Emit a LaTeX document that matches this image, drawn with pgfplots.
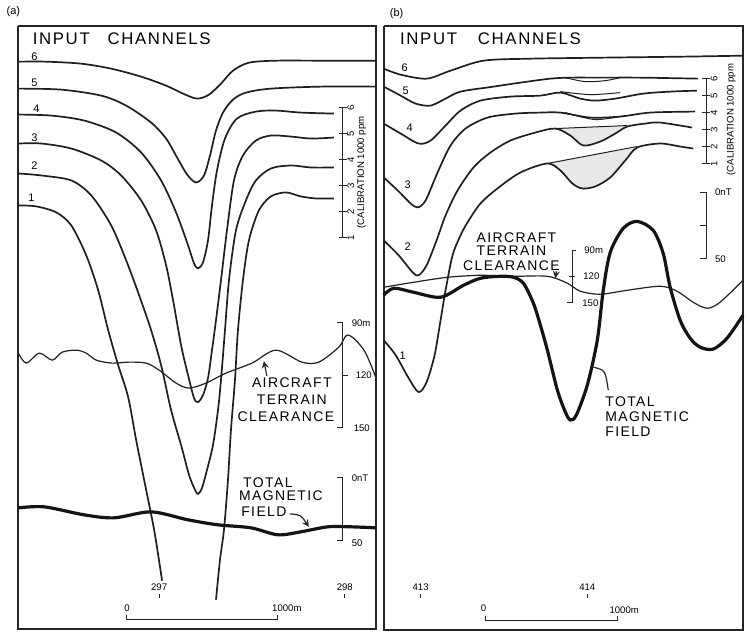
\documentclass[border=0pt]{standalone}
\usepackage{fontspec}
\setmainfont{Liberation Sans}
\newfontfamily\lab[LetterSpace=10]{Liberation Sans}
\usepackage{pgfplots}
\pgfplotsset{compat=1.18}

% pixel grid of the scan: x 0..750, y 0..634 downwards
\pgfplotsset{
  chan/.style={black!88, line width=0.85pt, smooth, tension=0.5, no markers},
  thin/.style={black!88, line width=0.6pt, smooth, tension=0.5, no markers},
  thick/.style={black!92, line width=1.6pt, smooth, tension=0.5, no markers},
  frame/.style={black!85, line width=1.1pt, sharp plot, no markers},
  shade/.style={fill=gray!18, draw=none, sharp plot, no markers},
}
\newcommand{\fbig}{\fontsize{8.4}{9}\lab}
\newcommand{\fmed}{\fontsize{7}{8}\lab}
\newcommand{\fsml}{\fontsize{5.5}{6}\selectfont}
\newcommand{\ftny}{\fontsize{4.8}{5.5}\selectfont}

\begin{document}
\begin{tikzpicture}
\begin{axis}[scale only axis, width=375pt, height=317pt,
  xmin=0, xmax=750, ymin=0, ymax=634, y dir=reverse,
  hide axis, clip=false]

\path (axis cs:0,0) rectangle (axis cs:750,634);

% ---------- panel (a) ----------
\addplot[frame] coordinates {(17,25) (375,25) (375,629) (17,629) (17,25)};

\addplot[chan] coordinates {(17,61) (45,61) (80,63) (110,68) (140,76) (165,85) (182,93) (196,98) (208,94) (220,83) (232,70) (248,62) (275,60) (320,60) (375,60)};
\addplot[chan] coordinates {(17,88) (60,89) (100,95) (125,105) (150,122) (165,138) (176,157) (186,174) (195,182) (203,175) (209,155) (215,130) (222,112) (232,99) (245,92) (270,88) (320,86) (375,86)};
\addplot[chan] coordinates {(17,114) (50,115) (83,120) (115,132) (140,152) (160,180) (175,212) (186,242) (193,263) (197,268) (202,262) (207,240) (211,205) (216,170) (224,138) (236,118) (255,111) (275,110) (300,112) (333,113)};
\addplot[chan] coordinates {(17,143) (40,143) (70,148) (100,160) (120,175) (140,200) (155,230) (165,265) (172,300) (180,345) (187,375) (193,398) (197,402) (202,395) (207,378) (211,350) (215,320) (220,280) (226,230) (233,180) (242,155) (255,140) (270,135) (290,136) (310,138) (333,137)};
\addplot[chan] coordinates {(17,173) (40,175) (70,180) (90,195) (110,225) (125,260) (138,295) (150,330) (160,365) (170,410) (180,445) (188,475) (194,490) (197,494) (201,488) (206,470) (212,445) (217,410) (220,380) (224,330) (228,280) (235,230) (245,200) (255,180) (270,168) (290,165) (310,167) (333,167)};
\addplot[chan] coordinates {(17,205) (35,206) (55,212) (70,225) (85,255) (97,290) (107,330) (117,365) (127,397) (135,440) (143,480) (153,530) (161,581)};
\addplot[chan] coordinates {(215,600) (219,560) (223,530) (227,480) (230,430) (234,380) (237,330) (242,280) (248,240) (258,210) (270,196) (285,192) (300,196) (315,198) (333,198)};

\addplot[thin] coordinates {(17,353) (25,363) (38,353) (51,360) (61,352) (75,350) (85,353) (95,360) (111,363) (128,362) (145,363) (158,370) (175,383) (188,388) (205,383) (225,373) (251,363) (275,350) (301,362) (318,362) (338,347) (346,335) (355,340) (365,353) (375,377)};
\addplot[thick] coordinates {(17,508) (43,507) (83,515) (113,518) (150,512) (187,520) (217,525) (250,528) (277,535) (300,532) (327,527) (350,527) (375,528)};

% ---------- panel (b) ----------
\addplot[frame] coordinates {(383,25) (743,25) (743,630) (383,630) (383,25)};

\addplot[shade] coordinates {(555,128) (570,135) (583,145) (600,141) (615,133) (627,125) (555,128)};
\addplot[shade] coordinates {(547,163) (560,170) (572,183) (582,188) (595,186) (610,177) (625,160) (637,147) (547,163)};

\addplot[chan] coordinates {(383,68) (400,74) (426,78) (450,70) (483,60) (530,58) (600,57) (680,56) (743,55)};
\addplot[chan] coordinates {(383,86) (400,95) (415,103) (430,105) (445,98) (460,91) (493,86) (520,82) (550,78) (570,77) (600,77) (640,77) (698,78)};
\addplot[chan] coordinates {(383,123) (400,133) (418,143) (430,140) (445,125) (460,110) (480,100) (510,96) (540,95) (560,92) (580,98) (595,100) (615,98) (643,93) (670,91) (697,90)};
\addplot[chan] coordinates {(383,177) (397,190) (410,203) (417,207) (425,200) (437,172) (450,145) (465,128) (487,117) (515,113) (540,112) (560,112) (590,117) (620,116) (650,112) (695,111)};
\addplot[chan] coordinates {(383,240) (398,255) (412,272) (418,275) (426,265) (436,240) (445,215) (457,190) (473,167) (490,152) (510,140) (535,132) (555,128) (570,135) (583,145) (600,141) (615,133) (627,126) (645,123) (660,122) (692,127)};
\addplot[chan] coordinates {(383,340) (395,355) (408,378) (418,392) (426,382) (434,355) (440,320) (445,290) (452,255) (460,235) (467,222) (480,203) (497,188) (520,172) (547,163) (560,170) (572,183) (582,188) (595,186) (610,177) (625,160) (637,147) (660,143) (680,146) (693,148)};
% background chords and lenses
\addplot[thin, line width=0.5pt] coordinates {(547,163) (637,146)};
\addplot[thin, line width=0.5pt] coordinates {(555,128) (627,125)};
\addplot[thin, line width=0.5pt] coordinates {(565,112) (595,119) (625,115)};
\addplot[thin, line width=0.5pt] coordinates {(560,91) (590,94) (620,92)};
\addplot[thin, line width=0.5pt] coordinates {(565,77) (585,81) (605,80) (620,77)};

\addplot[thin] coordinates {(383,287) (413,282) (447,277) (480,275) (513,276) (547,276) (567,283) (580,291) (600,294) (627,290) (660,286) (677,291) (693,302) (707,308) (720,302) (743,280)};
\addplot[thick] coordinates {(383,295) (393,288) (413,292) (440,297) (463,285) (480,278) (500,276) (513,277) (523,283) (533,303) (540,325) (547,350) (557,390) (565,412) (570,420) (576,415) (587,385) (597,340) (603,290) (610,252) (623,228) (637,221) (653,230) (663,253) (670,287) (680,320) (690,338) (700,347) (713,349) (727,338) (743,315)};

% ---------- text, panel (a) ----------
\node[font=\fsml] at (axis cs:12,11) {(a)};
\node[font=\fbig] at (axis cs:60,38) {INPUT};
\node[font=\fbig] at (axis cs:158,38) {CHANNELS};
\node[font=\fsml] at (axis cs:33,56) {6};
\node[font=\fsml] at (axis cs:33,82) {5};
\node[font=\fsml] at (axis cs:35,108) {4};
\node[font=\fsml] at (axis cs:33,137) {3};
\node[font=\fsml] at (axis cs:33,165) {2};
\node[font=\fsml] at (axis cs:30,197) {1};

\draw[black!85, line width=0.5pt] (axis cs:342,107) -- (axis cs:342,237);
\draw[black!85, line width=0.5pt] (axis cs:338,107) -- (axis cs:346,107);
\draw[black!85, line width=0.5pt] (axis cs:338,133) -- (axis cs:346,133);
\draw[black!85, line width=0.5pt] (axis cs:338,159) -- (axis cs:346,159);
\draw[black!85, line width=0.5pt] (axis cs:338,185) -- (axis cs:346,185);
\draw[black!85, line width=0.5pt] (axis cs:338,211) -- (axis cs:346,211);
\draw[black!85, line width=0.5pt] (axis cs:338,237) -- (axis cs:346,237);
\node[font=\ftny, rotate=90] at (axis cs:350,107) {6};
\node[font=\ftny, rotate=90] at (axis cs:350,133) {5};
\node[font=\ftny, rotate=90] at (axis cs:350,159) {4};
\node[font=\ftny, rotate=90] at (axis cs:350,185) {3};
\node[font=\ftny, rotate=90] at (axis cs:350,211) {2};
\node[font=\ftny, rotate=90] at (axis cs:350,237) {1};
\node[font=\ftny, rotate=90] at (axis cs:361,172) {(CALIBRATION 1000 ppm};

\draw[black!85, line width=0.5pt] (axis cs:336,322) -- (axis cs:342,322) -- (axis cs:342,427) -- (axis cs:336,427);
\draw[black!85, line width=0.5pt] (axis cs:342,375) -- (axis cs:347,375);
\node[font=\ftny, anchor=west] at (axis cs:344,323) {90m};
\node[font=\ftny, anchor=west] at (axis cs:348,375) {120};
\node[font=\ftny, anchor=west] at (axis cs:346,428) {150};
\node[font=\fmed] at (axis cs:291,383) {AIRCRAFT};
\node[font=\fmed] at (axis cs:291,400) {TERRAIN};
\node[font=\fmed] at (axis cs:285,417) {CLEARANCE};
\draw[black!85, line width=0.6pt, -stealth] (axis cs:266,376) -- (axis cs:263,361);

\draw[black!85, line width=0.5pt] (axis cs:336,478) -- (axis cs:342,478) -- (axis cs:342,541) -- (axis cs:336,541);
\node[font=\ftny, anchor=west] at (axis cs:344,478) {0nT};
\node[font=\ftny, anchor=west] at (axis cs:344,543) {50};
\node[font=\fmed] at (axis cs:267,483) {TOTAL};
\node[font=\fmed] at (axis cs:280,496) {MAGNETIC};
\node[font=\fmed] at (axis cs:263,512) {FIELD};
\draw[black!85, line width=0.6pt, -stealth] (axis cs:289,514) .. controls (axis cs:300,515) .. (axis cs:308,527);

\node[font=\ftny] at (axis cs:158,587) {297};
\draw[black!85, line width=0.4pt] (axis cs:158,594) -- (axis cs:158,598);
\node[font=\ftny] at (axis cs:344,587) {298};
\draw[black!85, line width=0.4pt] (axis cs:344,594) -- (axis cs:344,598);
\node[font=\ftny] at (axis cs:126,609) {0};
\node[font=\ftny] at (axis cs:286,609) {1000m};
\draw[black!85, line width=0.6pt] (axis cs:125,615) -- (axis cs:125,620) -- (axis cs:277,620) -- (axis cs:277,615);

% ---------- text, panel (b) ----------
\node[font=\fsml] at (axis cs:396,13) {(b)};
\node[font=\fbig] at (axis cs:428,38) {INPUT};
\node[font=\fbig] at (axis cs:529,38) {CHANNELS};
\node[font=\fsml] at (axis cs:404,67) {6};
\node[font=\fsml] at (axis cs:405,90) {5};
\node[font=\fsml] at (axis cs:409,127) {4};
\node[font=\fsml] at (axis cs:407,184) {3};
\node[font=\fsml] at (axis cs:407,246) {2};
\node[font=\fsml] at (axis cs:402,356) {1};

\draw[black!85, line width=0.5pt] (axis cs:706,78) -- (axis cs:706,163);
\draw[black!85, line width=0.5pt] (axis cs:702,78) -- (axis cs:710,78);
\draw[black!85, line width=0.5pt] (axis cs:702,95) -- (axis cs:710,95);
\draw[black!85, line width=0.5pt] (axis cs:702,112) -- (axis cs:710,112);
\draw[black!85, line width=0.5pt] (axis cs:702,129) -- (axis cs:710,129);
\draw[black!85, line width=0.5pt] (axis cs:702,146) -- (axis cs:710,146);
\draw[black!85, line width=0.5pt] (axis cs:702,163) -- (axis cs:710,163);
\node[font=\ftny, rotate=90] at (axis cs:714,78) {6};
\node[font=\ftny, rotate=90] at (axis cs:714,95) {5};
\node[font=\ftny, rotate=90] at (axis cs:714,112) {4};
\node[font=\ftny, rotate=90] at (axis cs:714,129) {3};
\node[font=\ftny, rotate=90] at (axis cs:714,146) {2};
\node[font=\ftny, rotate=90] at (axis cs:714,163) {1};
\node[font=\ftny, rotate=90] at (axis cs:731,119) {(CALIBRATION 1000 ppm};

\draw[black!85, line width=0.5pt] (axis cs:700,192) -- (axis cs:706,192) -- (axis cs:706,258) -- (axis cs:700,258);
\draw[black!85, line width=0.5pt] (axis cs:700,225) -- (axis cs:706,225);
\node[font=\ftny, anchor=west] at (axis cs:708,192) {0nT};
\node[font=\ftny, anchor=west] at (axis cs:708,259) {50};

\draw[black!85, line width=0.5pt] (axis cs:576,250) -- (axis cs:572,250) -- (axis cs:572,302) -- (axis cs:567,302);
\draw[black!85, line width=0.5pt] (axis cs:569,276) -- (axis cs:575,276);
\node[font=\ftny, anchor=west] at (axis cs:577,250) {90m};
\node[font=\ftny, anchor=west] at (axis cs:576,276) {120};
\node[font=\ftny, anchor=west] at (axis cs:575,303) {150};
\node[font=\fmed] at (axis cs:516,237) {AIRCRAFT};
\node[font=\fmed] at (axis cs:511,250) {TERRAIN};
\node[font=\fmed] at (axis cs:511,265) {CLEARANCE};
\draw[black!85, line width=0.6pt, -stealth] (axis cs:556,271) -- (axis cs:555,278);

\node[font=\fmed, anchor=west] at (axis cs:598,402) {TOTAL};
\node[font=\fmed, anchor=west] at (axis cs:598,417) {MAGNETIC};
\node[font=\fmed, anchor=west] at (axis cs:598,432) {FIELD};
\draw[black!85, line width=0.6pt] (axis cs:593,367) .. controls (axis cs:605,370) .. (axis cs:608,390);

\node[font=\ftny] at (axis cs:420,587) {413};
\draw[black!85, line width=0.4pt] (axis cs:420,594) -- (axis cs:420,598);
\node[font=\ftny] at (axis cs:587,587) {414};
\draw[black!85, line width=0.4pt] (axis cs:587,594) -- (axis cs:587,598);
\node[font=\ftny] at (axis cs:483,609) {0};
\node[font=\ftny] at (axis cs:624,611) {1000m};
\draw[black!85, line width=0.6pt] (axis cs:485,616) -- (axis cs:485,621) -- (axis cs:617,621) -- (axis cs:617,616);

\end{axis}
\end{tikzpicture}
\end{document}
